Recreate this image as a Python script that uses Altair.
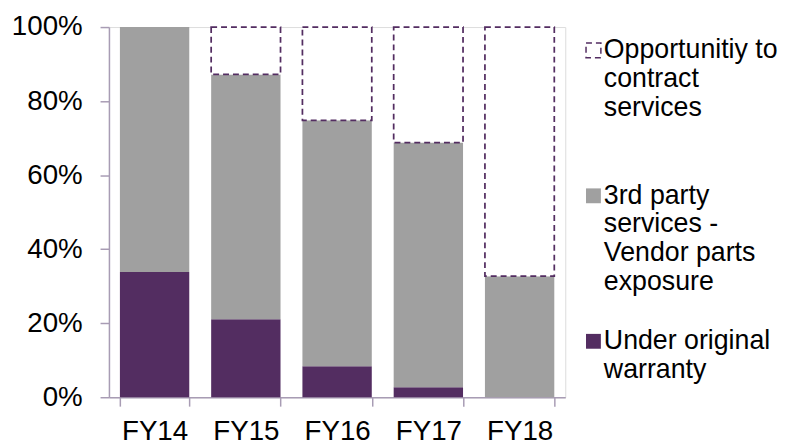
import altair as alt
import pandas as pd

years = ["FY14", "FY15", "FY16", "FY17", "FY18"]
series = [
    "Opportunitiy to contract services",
    "3rd party services - Vendor parts exposure",
    "Under original warranty",
]
warranty = [0.338, 0.211, 0.084, 0.027, 0.0]
third_party = [0.662, 0.661, 0.664, 0.661, 0.327]
opportunity = [0.0, 0.128, 0.252, 0.312, 0.673]

label_lines = {
    series[0]: ["Opportunitiy to", "contract", "services", ""],
    series[1]: ["3rd party", "services -", "Vendor parts", "exposure"],
    series[2]: ["Under original", "warranty", "", ""],
}

rows = []
for i, y in enumerate(years):
    rows.append({"year": y, "series": series[2], "value": warranty[i], "rank": 0})
    rows.append({"year": y, "series": series[1], "value": third_party[i], "rank": 1})
    rows.append({"year": y, "series": series[0], "value": opportunity[i], "rank": 2})
df = pd.DataFrame(rows)

def arr(lines):
    return "[" + ",".join("'" + l + "'" for l in lines) + "]"

label_expr = (
    f"datum.label == '{series[0]}' ? {arr(label_lines[series[0]])} : "
    f"datum.label == '{series[1]}' ? {arr(label_lines[series[1]])} : "
    f"{arr(label_lines[series[2]])}"
)

PURPLE = "#532d61"
GRAY = "#a0a0a0"
AXIS = "#a89cb4"
FONT = "Liberation Sans"
FS = 28

legend = alt.Legend(
    title=None,
    orient="none",
    legendX=476,
    legendY=10,
    symbolType="square",
    symbolSize=225,
    symbolStrokeWidth=1.5,
    labelFont=FONT,
    labelFontSize=27,
    labelColor="#000000",
    labelLimit=400,
    labelOffset={"expr": "-3"},
    labelBaseline="middle",
    rowPadding=32,
    labelExpr=label_expr,
)

chart = (
    alt.Chart(df)
    .transform_filter("datum.value > 0")
    .mark_bar(strokeWidth=1.75)
    .encode(
        x=alt.X(
            "year:N",
            sort=years,
            title=None,
            scale=alt.Scale(paddingInner=0.24, paddingOuter=0.12),
            axis=alt.Axis(
                labelAngle=0,
                labelFont=FONT,
                labelFontSize=FS,
                labelColor="#000000",
                labelPadding=12,
                tickBand="extent",
                tickSize=9,
                tickColor=AXIS,
                tickWidth=1.5,
                domainColor=AXIS,
                domainWidth=1.5,
                grid=False,
            ),
        ),
        y=alt.Y(
            "value:Q",
            stack="zero",
            title=None,
            scale=alt.Scale(domain=[0, 1], nice=False),
            axis=alt.Axis(
                values=[0, 0.2, 0.4, 0.6, 0.8, 1.0],
                format=".0%",
                labelFont=FONT,
                labelFontSize=FS,
                labelColor="#000000",
                labelPadding=18,
                tickSize=9,
                tickColor=AXIS,
                tickWidth=1.5,
                domainColor=AXIS,
                domainWidth=1.5,
                grid=False,
            ),
        ),
        fill=alt.Fill(
            "series:N",
            scale=alt.Scale(domain=series, range=["#ffffff", GRAY, PURPLE]),
            legend=legend,
        ),
        stroke=alt.Stroke(
            "series:N",
            scale=alt.Scale(domain=series, range=[PURPLE, "transparent", "transparent"]),
            legend=legend,
        ),
        strokeDash=alt.StrokeDash(
            "series:N",
            scale=alt.Scale(domain=series, range=[[6, 4], [1, 0], [1, 0]]),
            legend=legend,
        ),
        order=alt.Order("rank:Q"),
    )
    .properties(
        width=461,
        height=374,
        autosize=alt.AutoSizeParams(type="none"),
        padding={"left": 102, "top": 17, "right": 219, "bottom": 46},
    )
    .configure_view(stroke=None)
    .configure(background="#ffffff")
)

chart.save("out.html", embed_options={"renderer": "svg", "actions": False})
